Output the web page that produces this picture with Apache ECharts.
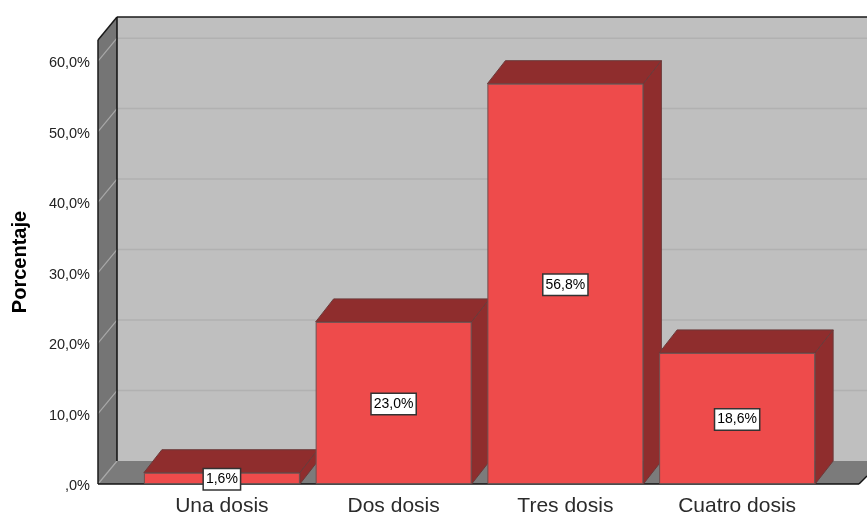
<!DOCTYPE html>
<html><head><meta charset="utf-8">
<style>html,body{margin:0;padding:0;background:#fff}#c{width:867px;height:516px}</style>
<script src="https://cdn.jsdelivr.net/npm/echarts@6/dist/echarts.min.js"></script>
</head><body><div id="c"></div>
<script>
const categories = ['Una dosis', 'Dos dosis', 'Tres dosis', 'Cuatro dosis'];
const values = [1.6, 23.0, 56.8, 18.6];
const tickValues = [0, 10, 20, 30, 40, 50, 60];
const tickLabels = [',0%', '10,0%', '20,0%', '30,0%', '40,0%', '50,0%', '60,0%'];
const yName = 'Porcentaje';

const DX = 18, DY = -23, WALL_LEFT = 98, FONT = '"Liberation Sans", Arial, sans-serif';
const chart = echarts.init(document.getElementById('c'), null, {renderer: 'canvas'});

function poly(points, fill, stroke, lw) {
  return {type: 'polygon', shape: {points}, style: {fill, stroke: stroke || null, lineWidth: lw || 0}};
}
function line(x1, y1, x2, y2, stroke, lw) {
  return {type: 'line', shape: {x1, y1, x2, y2}, style: {stroke, lineWidth: lw}};
}
function renderWalls(params, api) {
  const cs = params.coordSys, fx = WALL_LEFT, bx = fx + 19, y0 = api.coord([0, 0])[1];
  const yT = cs.y, R = 867, fr = 859;
  const kids = [
    poly([[bx, yT + DY], [R, yT + DY], [R, y0 + DY], [bx, y0 + DY]], '#bfbfbf'),
    poly([[fx, yT], [bx, yT + DY], [bx, y0 + DY], [fx, y0]], '#757575'),
    poly([[fx, y0], [bx, y0 + DY], [R, y0 + DY], [R, y0 - 8], [fr, y0]], '#7b7b7b')
  ];
  tickValues.forEach(v => {
    const y = api.coord([0, v])[1];
    if (v > 0) kids.push(line(bx, y + DY, R, y + DY, '#b1b1b1', 1.5));
    kids.push(line(fx, y, bx, y + DY, '#a8a8a8', 1.2));
  });
  kids.push(
    line(bx, yT + DY, R, yT + DY, '#1a1a1a', 1.5),
    line(fx, yT, bx, yT + DY, '#1a1a1a', 1.5),
    line(fx, yT, fx, y0, '#1a1a1a', 1.5),
    line(bx, yT + DY, bx, y0 + DY, '#111', 1.5),
    line(fx, y0, fr, y0, '#111', 1.5),
    line(fr, y0, R, y0 - 8, '#111', 1.5)
  );
  return {type: 'group', children: kids};
}
function renderBox(params, api) {
  const top = api.coord([api.value(0), api.value(1)]);
  const base = api.coord([api.value(0), 0]);
  const w = api.size([1, 0])[0] * 156 / 171.75;
  const l = top[0] - w / 2, r = top[0] + w / 2, t = top[1], b = base[1];
  const e = '#6b3a3a', c = '#8f2d2d';
  return {type: 'group', children: [
    poly([[l, t], [l + DX, t + DY], [r + DX, t + DY], [r, t]], c, e, 1),
    poly([[r, t], [r + DX, t + DY], [r + DX, b + DY], [r, b]], c, e, 1)
  ]};
}

chart.setOption({
  animation: false,
  backgroundColor: '#fff',
  grid: [
    {left: 136, top: 40, width: 687, height: 444, outerBoundsMode: 'none'},
    {left: 136, top: 42, width: 687, height: 444, outerBoundsMode: 'none'}
  ],
  xAxis: [
    {
      type: 'category', data: categories, gridIndex: 0,
      axisLine: {show: false}, axisTick: {show: false},
      axisLabel: {fontFamily: FONT, fontSize: 21, color: '#2b2b2b', margin: 12, interval: 0}
    },
    {type: 'category', data: categories, gridIndex: 1, show: false}
  ],
  yAxis: [
    {
      type: 'value', gridIndex: 0, min: 0, max: 63, interval: 10, offset: 38,
      name: yName, nameLocation: 'middle', nameGap: 68, nameRotate: 90,
      nameTextStyle: {fontFamily: FONT, fontSize: 20, fontWeight: 'bold', color: '#000'},
      axisLine: {show: false}, axisTick: {show: false}, splitLine: {show: false},
      axisLabel: {show: false}
    },
    {
      type: 'value', gridIndex: 1, min: 0, max: 63, interval: 10, offset: 38,
      axisLine: {show: false}, axisTick: {show: false}, splitLine: {show: false},
      axisLabel: {
        fontFamily: FONT, fontSize: 14.5, color: '#222', margin: 8, showMaxLabel: false,
        formatter: v => { const i = tickValues.indexOf(v); return i < 0 ? '' : tickLabels[i]; }
      }
    }
  ],
  series: [
    {type: 'custom', z: 1, silent: true, renderItem: renderWalls, data: [[0, 0]], encode: {x: 0, y: 1}},
    {type: 'custom', z: 2, silent: true, renderItem: renderBox,
     data: values.map((v, i) => [i, v]), encode: {x: 0, y: 1}},
    {type: 'bar', z: 3, data: values, barWidth: 156,
     itemStyle: {color: '#ee4b4b', borderColor: '#6e5050', borderWidth: 1},
     label: {
       show: true, position: 'inside', fontFamily: FONT, fontSize: 14, color: '#000',
       backgroundColor: '#fff', borderColor: '#333', borderWidth: 1.5, padding: [4, 2, 2, 2],
       offset: [0, 1],
       formatter: p => p.value.toFixed(1).replace('.', ',') + '%'
     }}
  ]
});
</script></body></html>
